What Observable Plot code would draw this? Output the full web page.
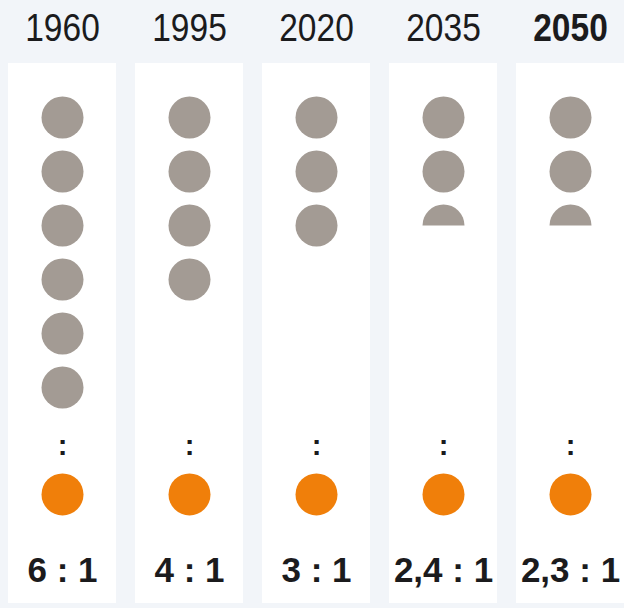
<!DOCTYPE html>
<html>
<head>
<meta charset="utf-8">
<script src="https://cdn.jsdelivr.net/npm/d3@7"></script>
<script src="https://cdn.jsdelivr.net/npm/@observablehq/plot@0.6"></script>
<style>
  html, body { margin: 0; padding: 0; background: #f2f5f9; }
  #chart svg { display: block; }
</style>
</head>
<body>
<div id="chart"></div>
<script>
// Data
const years = ["1960", "1995", "2020", "2035", "2050"];
const ratios = [6, 4, 3, 2.4, 2.3];
const ratioLabels = ["6 : 1", "4 : 1", "3 : 1", "2,4 : 1", "2,3 : 1"];
const highlightYear = "2050";

// Derived tables
const full = [];
const partial = [];
years.forEach((yr, j) => {
  const r = ratios[j];
  const n = Math.floor(r);
  for (let i = 0; i < n; i++) full.push({year: yr, slot: 1 + i});
  if (r - n > 0) partial.push({year: yr, slot: 1 + n, frac: r - n});
});
const cols = years.map((yr, j) => ({year: yr, label: ratioLabels[j]}));

// half-circle symbol (top half)
const halfCircle = {
  draw(context, size) {
    const r = Math.sqrt(size / Math.PI);
    context.moveTo(r, 0);
    context.arc(0, 0, r, 0, Math.PI, true);
    context.closePath();
  }
};

const gray = "#a39b94";
const orange = "#f07f0a";
const ink = "#1b1b1d";

const chart = Plot.plot({
  width: 624,
  height: 608,
  margin: 0,
  style: {background: "#f2f5f9", overflow: "visible"},
  x: {type: "band", domain: years, range: [8, 625], paddingInner: 0.151, paddingOuter: 0, align: 0, axis: null},
  y: {domain: [0, 10], range: [63, 603], axis: null},
  marks: [
    Plot.barY(cols, {x: "year", y1: 0, y2: 10, fill: "white"}),
    Plot.dot(full, {x: "year", y: "slot", r: 21, fill: gray, stroke: null}),
    Plot.dot(partial, {x: "year", y: "slot", r: 21, fill: gray, stroke: null, symbol: halfCircle}),
    Plot.text(cols, {x: "year", y: 7.08, text: () => ":", fontSize: 29, fontWeight: "bold", fill: ink, fontFamily: "Liberation Sans, Arial, sans-serif"}),
    Plot.dot(cols, {x: "year", y: 7.98, r: 21, fill: orange, stroke: null}),
    Plot.text(cols, {x: "year", y: 9.39, text: "label", fontSize: 35, fontWeight: "bold", fill: ink, fontFamily: "Liberation Sans, Arial, sans-serif"}),
    Plot.text(cols.filter(d => d.year !== highlightYear), {x: "year", y: -0.65, text: "year", fontSize: 39, fill: ink, fontFamily: "Liberation Sans, Arial, sans-serif"}),
    Plot.text(cols.filter(d => d.year === highlightYear), {x: "year", y: -0.65, text: "year", fontSize: 39, fontWeight: "bold", fill: ink, fontFamily: "Liberation Sans, Arial, sans-serif"})
  ]
});
// condense the year labels horizontally (no narrow font installed)
d3.select(chart).selectAll("text")
  .filter(function() { return years.includes(this.textContent); })
  .each(function() {
    const t = this.getAttribute("transform") || "";
    this.setAttribute("transform", t + " scale(0.86,1)");
  });
document.getElementById("chart").appendChild(chart);
</script>
</body>
</html>
